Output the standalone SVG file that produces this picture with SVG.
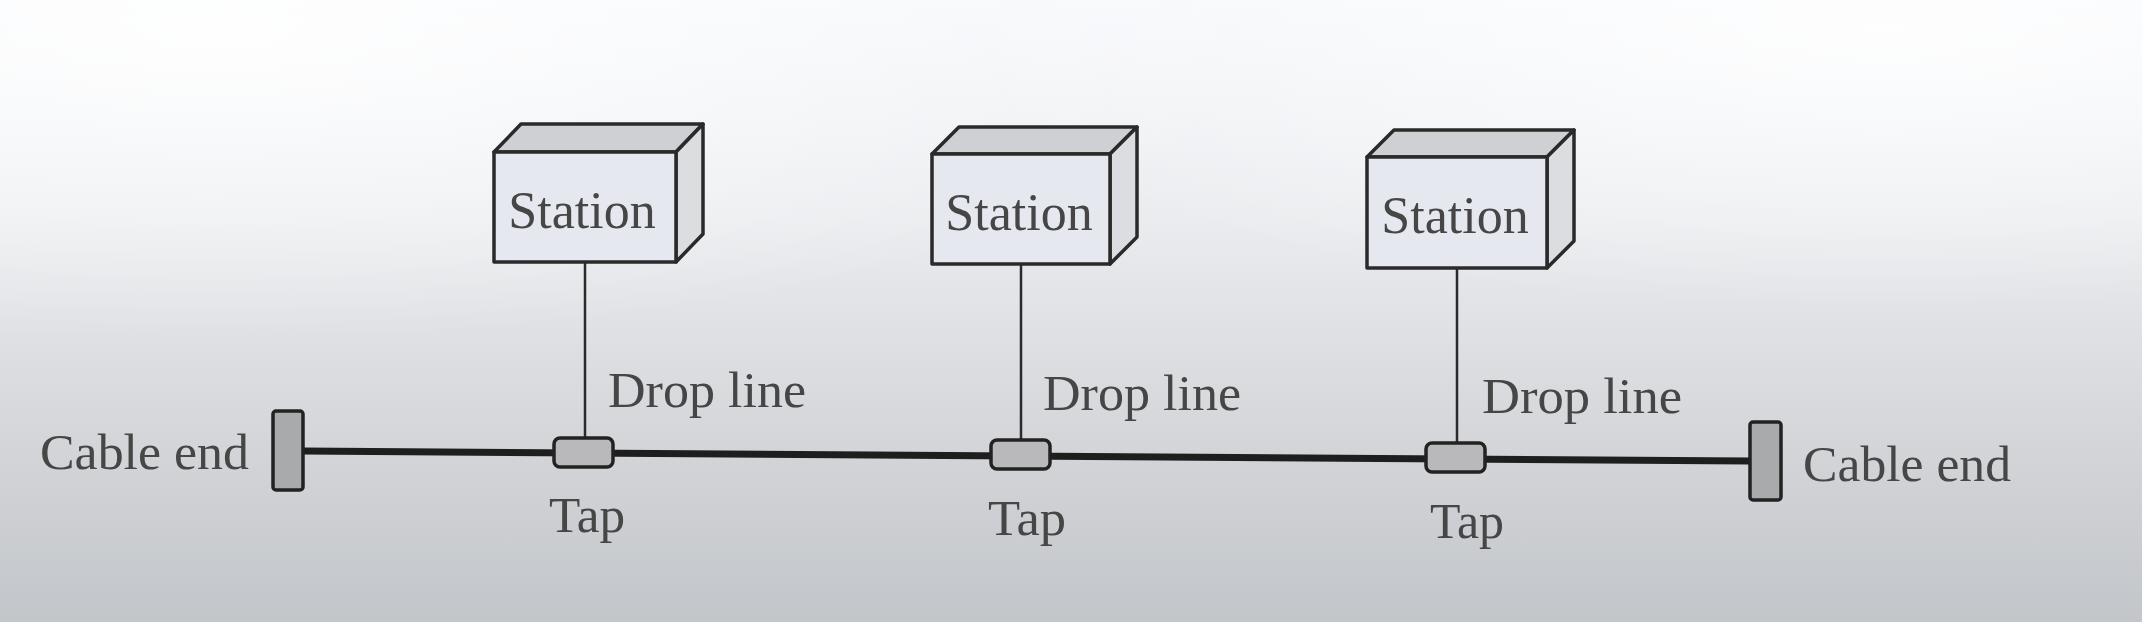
<svg xmlns="http://www.w3.org/2000/svg" width="2142" height="622" viewBox="0 0 2142 622">
<defs>
<linearGradient id="bg" x1="0" y1="0" x2="0" y2="1">
<stop offset="0" stop-color="#f6f8fb"/>
<stop offset="0.35" stop-color="#eaecef"/>
<stop offset="0.7" stop-color="#d4d6da"/>
<stop offset="1" stop-color="#c2c5c9"/>
</linearGradient>
<radialGradient id="glowL" cx="0.1" cy="0.05" r="0.5">
<stop offset="0" stop-color="#ffffff" stop-opacity="0.9"/>
<stop offset="1" stop-color="#ffffff" stop-opacity="0"/>
</radialGradient>
<radialGradient id="glowR" cx="0.88" cy="0.05" r="0.45">
<stop offset="0" stop-color="#ffffff" stop-opacity="0.85"/>
<stop offset="1" stop-color="#ffffff" stop-opacity="0"/>
</radialGradient>
</defs>
<style>
.front{fill:#e6e8f0;stroke:#2a2a2a;stroke-width:3.5;stroke-linejoin:round}
.top{fill:#cfd0d3;stroke:#2a2a2a;stroke-width:3.5;stroke-linejoin:round}
.side{fill:#dcdde0;stroke:#2a2a2a;stroke-width:3.5;stroke-linejoin:round}
.lbl{font-family:"Liberation Serif","Times New Roman",serif;fill:#464646}
.st{font-size:52px;text-anchor:middle}
.sm{font-size:50px}
.drop{stroke:#2a2a2a;stroke-width:2.5;fill:none}
.cable{stroke:#1e1e1e;stroke-width:7;fill:none}
.tap{fill:#b9b9bb;stroke:#222;stroke-width:3.5}
.end{fill:#a9aaac;stroke:#222;stroke-width:3.5}
</style>
<rect width="2142" height="622" fill="url(#bg)"/>
<rect width="2142" height="622" fill="url(#glowL)"/>
<rect width="2142" height="622" fill="url(#glowR)"/>

<g id="connectors">
<polyline class="cable" points="303,451 1750,461"/>
<line class="drop" x1="585" y1="262" x2="585" y2="438"/>
<line class="drop" x1="1021" y1="264" x2="1021" y2="440"/>
<line class="drop" x1="1457" y1="268" x2="1457" y2="443"/>
</g>

<g id="station1">
<polygon class="top" points="494,152 521,124 703,124 676,152"/>
<polygon class="side" points="676,152 703,124 703,234 676,262"/>
<rect class="front" x="494" y="152" width="182" height="110"/>
<text class="lbl st" x="582" y="228">Station</text>
</g>
<g id="station2">
<polygon class="top" points="932,154 959,127 1137,127 1110,154"/>
<polygon class="side" points="1110,154 1137,127 1137,237 1110,264"/>
<rect class="front" x="932" y="154" width="178" height="110"/>
<text class="lbl st" x="1019" y="230">Station</text>
</g>
<g id="station3">
<polygon class="top" points="1367,157 1394,130 1574,130 1547,157"/>
<polygon class="side" points="1547,157 1574,130 1574,241 1547,268"/>
<rect class="front" x="1367" y="157" width="180" height="111"/>
<text class="lbl st" x="1455" y="233">Station</text>
</g>

<g id="tap1">
<rect class="tap" x="554" y="438" width="59" height="29" rx="6"/>
<text class="lbl sm" x="549" y="532" textLength="76" lengthAdjust="spacingAndGlyphs">Tap</text>
</g>
<g id="tap2">
<rect class="tap" x="991" y="440" width="59" height="29" rx="6"/>
<text class="lbl sm" x="988" y="535" textLength="78" lengthAdjust="spacingAndGlyphs">Tap</text>
</g>
<g id="tap3">
<rect class="tap" x="1426" y="443" width="59" height="29" rx="6"/>
<text class="lbl sm" x="1430" y="538" textLength="74" lengthAdjust="spacingAndGlyphs">Tap</text>
</g>

<g id="droplabels">
<text class="lbl sm" x="608" y="407" textLength="198" lengthAdjust="spacingAndGlyphs">Drop line</text>
<text class="lbl sm" x="1043" y="410" textLength="198" lengthAdjust="spacingAndGlyphs">Drop line</text>
<text class="lbl sm" x="1482" y="413" textLength="200" lengthAdjust="spacingAndGlyphs">Drop line</text>
</g>

<g id="cableend1">
<rect class="end" x="273" y="411" width="30" height="79" rx="3"/>
<text class="lbl sm" x="40" y="469" textLength="209" lengthAdjust="spacingAndGlyphs">Cable end</text>
</g>
<g id="cableend2">
<rect class="end" x="1750" y="422" width="31" height="78" rx="3"/>
<text class="lbl sm" x="1803" y="481" textLength="208" lengthAdjust="spacingAndGlyphs">Cable end</text>
</g>
</svg>
